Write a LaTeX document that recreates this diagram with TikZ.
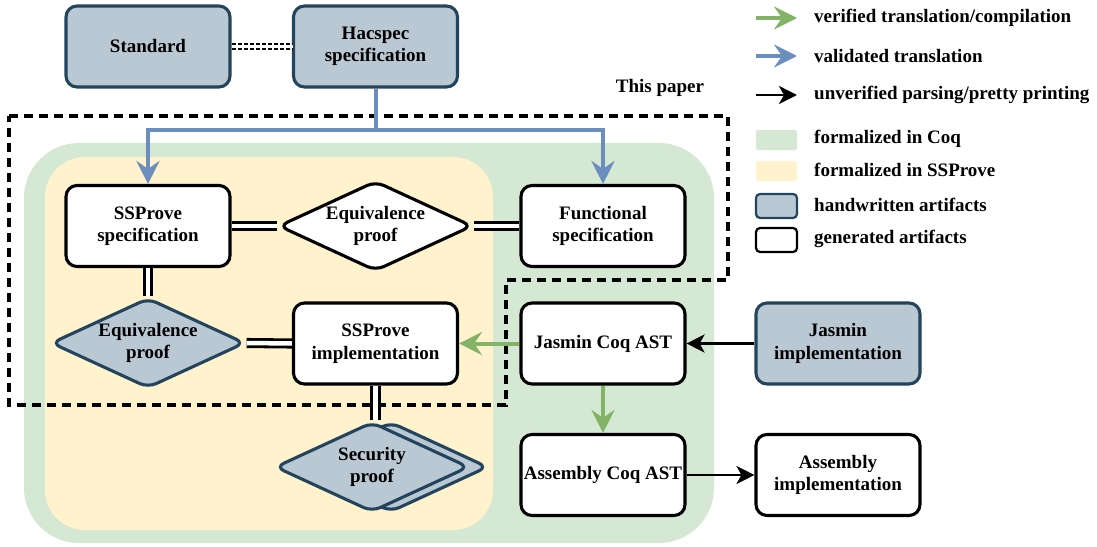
\documentclass[tikz,border=0pt]{standalone}
\usepackage{fontspec}
\setmainfont{Liberation Serif}
\usepackage{xcolor}
\definecolor{handfill}{HTML}{BAC8D3}
\definecolor{handline}{HTML}{23445D}
\definecolor{coqgreen}{HTML}{D5E8D4}
\definecolor{ssyellow}{HTML}{FFF2CC}
\definecolor{valblue}{HTML}{6C8EBF}
\definecolor{vergreen}{HTML}{82B366}
\usepackage{tikz}
\usetikzlibrary{positioning,arrows.meta,shapes.geometric}
\newcommand{\diagfont}{\fontsize{19}{22.5}\selectfont\bfseries}

\tikzset{
  artifact/.style={rectangle, rounded corners=11pt, draw=black, line width=3.1pt, fill=white,
    minimum width=164pt, minimum height=81pt, inner xsep=1pt, align=center, font=\diagfont},
  handbox/.style={artifact, draw=handline, fill=handfill},
  proofbox/.style={diamond, aspect=2.13, rounded corners=9pt, draw=black, line width=3.1pt, fill=white,
    minimum width=194pt, minimum height=90pt, inner sep=0pt, align=center, font=\diagfont},
  handproof/.style={proofbox, draw=handline, fill=handfill},
  equivline/.style={double, line width=2.8pt, double distance=4.5pt},
  verarrow/.style={draw=vergreen, line width=4pt, -{Stealth[length=23pt,width=23pt,inset=8pt]}},
  valarrow/.style={draw=valblue, line width=4pt, -{Stealth[length=23pt,width=23pt,inset=8pt]}},
  parsearrow/.style={draw=black, line width=2.8pt, -{Stealth[length=18pt,width=18pt,inset=5pt]}},
  legendtext/.style={anchor=west, inner sep=0pt, font=\diagfont},
}

\begin{document}
\begin{tikzpicture}[x=1pt,y=-1pt]
\useasboundingbox (0,0) rectangle (1097,546);

%%% regions
\fill[coqgreen, rounded corners=55pt] (24,143) rectangle (714,543);
\fill[ssyellow, rounded corners=40pt] (45,157) rectangle (493,530);

%%% this paper
\draw[line width=3.2pt, dash pattern=on 9pt off 6pt]
(9,116) -- (728,116) -- (728,280) -- (506,280) -- (506,405) -- (9,405) -- cycle;
\node[font=\diagfont] (paper) at (660,88) {This paper};

%%% top row
\node[handbox] (std) at (148,46.5) {Standard};
\node[handbox] (hac) at (375.5,46.5) {Hacspec\\specification};
\draw[line width=2pt, double, double distance=3pt, dash pattern=on 4pt off 2pt] (std.east) -- (hac.west);

%%% specifications
\node[artifact] (sspec) at (148,226) {SSProve\\specification};
\node[proofbox] (eqspec) at (375.5,226) {Equivalence\\proof};
\node[artifact] (fspec) at (603,226) {Functional\\specification};
\draw[equivline] (sspec.east) -- (eqspec.west);
\draw[equivline] (eqspec.east) -- (fspec.west);

\coordinate (split) at (375.5,130);
\draw[valarrow] (hac.south) -- (split) -| (sspec.north);
\draw[valarrow] (split) -| (fspec.north);

%%% implementations
\node[handproof] (eqimpl) at (148,343) {Equivalence\\proof};
\node[artifact] (simpl) at (375.5,343.5) {SSProve\\implementation};
\node[artifact] (jast) at (603,343.5) {Jasmin Coq AST};
\node[handbox] (jimpl) at (838,343.5) {Jasmin\\implementation};
\draw[equivline] (sspec.south) -- (eqimpl.north);
\draw[equivline] (eqimpl.east) -- (simpl.west);
\draw[verarrow] (jast.west) -- (simpl.east);
\draw[parsearrow] (jimpl.west) -- (jast.east);

%%% security and assembly
\node[handproof] (secback) at (391,467) {};
\node[handproof] (sec) at (372,467) {Security\\proof};
\draw[equivline] (simpl.south) -- (simpl.south |- sec.north);
\node[artifact] (aast) at (603,475) {Assembly Coq AST};
\node[artifact] (aimpl) at (838,475) {Assembly\\implementation};
\draw[verarrow] (jast.south) -- (aast.north);
\draw[parsearrow] (aast.east) -- (aimpl.west);

%%% legend
\coordinate (lgverA) at (756,18);
\coordinate (lgverB) at (797,18);
\draw[verarrow] (lgverA) -- (lgverB);
\node[legendtext] (lgver) at (814,18) {verified translation/compilation};
\coordinate (lgvalA) at (756,56);
\coordinate (lgvalB) at (797,56);
\draw[valarrow] (lgvalA) -- (lgvalB);
\node[legendtext] (lgval) at (814,56) {validated translation};
\coordinate (lgparA) at (756,95);
\coordinate (lgparB) at (797,95);
\draw[parsearrow] (lgparA) -- (lgparB);
\node[legendtext] (lgpar) at (814,95) {unverified parsing/pretty printing};

\fill[coqgreen, rounded corners=2pt] (756,130) rectangle (797,150);
\node[legendtext] (lgcoq) at (814,139) {formalized in Coq};
\fill[ssyellow, rounded corners=2pt] (756,161) rectangle (797,181);
\node[legendtext] (lgss) at (814,170) {formalized in SSProve};
\draw[handline, fill=handfill, line width=2.2pt, rounded corners=4pt] (756,194) rectangle (797,218);
\node[legendtext] (lghand) at (814,205) {handwritten artifacts};
\draw[black, fill=white, line width=2.2pt, rounded corners=4pt] (756,228) rectangle (797,252);
\node[legendtext] (lggen) at (814,239) {generated artifacts};
\end{tikzpicture}
\end{document}
